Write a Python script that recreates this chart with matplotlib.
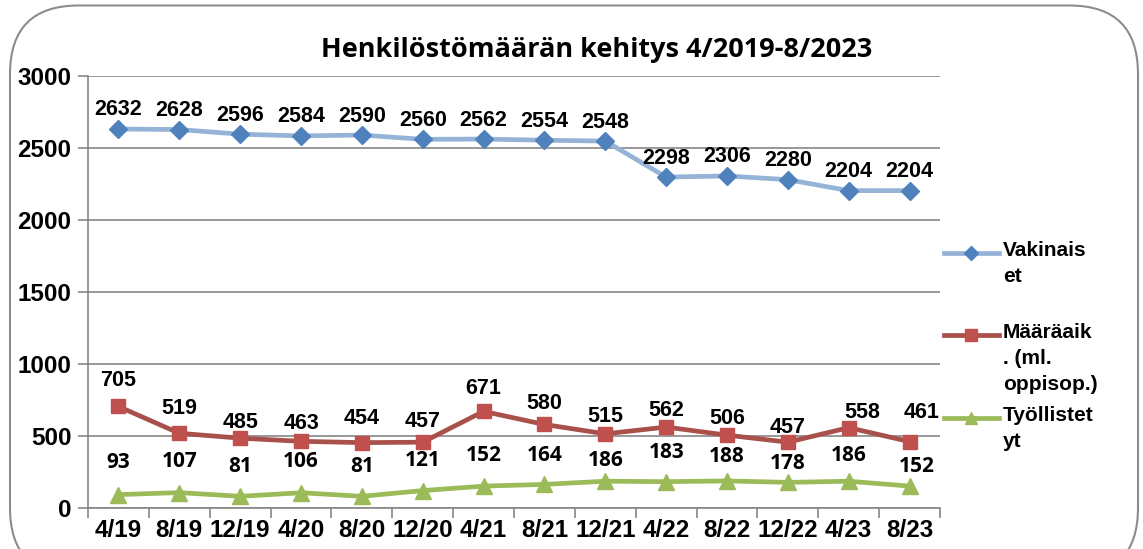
import matplotlib.pyplot as plt
from matplotlib.patches import FancyBboxPatch
from matplotlib.lines import Line2D

periods = ["4/19", "8/19", "12/19", "4/20", "8/20", "12/20", "4/21",
           "8/21", "12/21", "4/22", "8/22", "12/22", "4/23", "8/23"]
vakinaiset = [2632, 2628, 2596, 2584, 2590, 2560, 2562, 2554, 2548, 2298, 2306, 2280, 2204, 2204]
maaraaik = [705, 519, 485, 463, 454, 457, 671, 580, 515, 562, 506, 457, 558, 461]
tyollistetyt = [93, 107, 81, 106, 81, 121, 152, 164, 186, 183, 188, 178, 186, 152]
legend_labels = ["Vakinais\net", "Määräaik\n. (ml.\noppisop.)", "Työllistet\nyt"]

# data label placement (pixels above / right of each point), as hand-placed in the original
label_dy = [
    [19] * 14,
    [26, 25, 16, 18, 24, 21, 23, 21, 17, 17, 17, 15, 15, 29],
    [32, 31, 30, 31, 30, 30, 31, 29, 21, 29, 24, 19, 26, 20],
]
label_dx = [
    [0] * 14,
    [0] * 12 + [14, 12],
    [0] * 13 + [7],
]

W, H = 1143, 549
fig = plt.figure(figsize=(W / 100, H / 100), dpi=100)
ax = fig.add_axes([88 / W, 1 - 508 / H, (940 - 88) / W, (508 - 76) / H])

# rounded chart border
fig.patches.append(FancyBboxPatch((10 / W, -0.05), (1138 - 10) / W, 1.04,
                                  boxstyle="round,pad=0,rounding_size=0.06",
                                  transform=fig.transFigure, fill=False,
                                  edgecolor="#8c8c8c", linewidth=1.5,
                                  mutation_aspect=W / H))

x = list(range(len(periods)))
series = [
    (vakinaiset, "#95B3D7", "#4F81BD", "D", 9, "Liberation Sans"),
    (maaraaik, "#A9504A", "#C0504D", "s", 10, "Liberation Sans"),
    (tyollistetyt, "#9BBB59", "#9BBB59", "^", 11, "Open Sans"),
]
for (vals, lc, mc, mk, ms, fam), dys, dxs in zip(series, label_dy, label_dx):
    ax.plot(x, vals, color=lc, linewidth=3.4, marker=mk, markersize=ms,
            markerfacecolor=mc, markeredgecolor=mc, zorder=3, clip_on=False)
    for xi, v, dy, dx in zip(x, vals, dys, dxs):
        ax.annotate(str(v), (xi, v), xytext=(dx * 0.72, dy * 0.72), textcoords="offset points",
                    ha="center", va="center", fontsize=15 if fam == "Open Sans" else 15.5,
                    fontweight="bold", family=fam, zorder=4)

ax.set_xlim(-0.5, len(periods) - 0.5)
ax.set_ylim(0, 3000)
ax.set_yticks(range(0, 3001, 500))
ax.set_xticks(x)
ax.set_xticklabels(periods)
ax.set_xticks([i - 0.5 for i in range(len(periods) + 1)], minor=True)
ax.tick_params(axis="x", which="major", length=0, pad=8)
ax.tick_params(axis="x", which="minor", length=7, color="#868686", width=1.2)
ax.tick_params(axis="y", length=7, color="#868686", width=1.2, pad=5)
for lab in ax.get_xticklabels() + ax.get_yticklabels():
    lab.set_fontsize(17.5)
    lab.set_fontweight("bold")
    lab.set_family("Liberation Sans")
ax.grid(axis="y", color="#868686", linewidth=1.2)
ax.set_axisbelow(True)
for s in ["top", "right"]:
    ax.spines[s].set_visible(False)
for s in ["left", "bottom"]:
    ax.spines[s].set_color("#868686")
    ax.spines[s].set_linewidth(1.2)

fig.text(597 / W, 1 - 50 / H, "Henkilöstömäärän kehitys 4/2019-8/2023",
         ha="center", va="center", fontsize=19.5, fontweight="bold", family="Open Sans")

# legend drawn by hand so the handle sits on the first text line
leg_y = [253, 335, 418]
for (vals, lc, mc, mk, ms, fam), lab, ly in zip(series, legend_labels, leg_y):
    yy = 1 - ly / H
    fig.add_artist(Line2D([944 / W, 999 / W], [yy, yy], color=lc, linewidth=3.4,
                          transform=fig.transFigure))
    fig.add_artist(Line2D([971 / W], [yy], marker=mk, markersize=ms - 2, color=mc,
                          transform=fig.transFigure))
    fig.text(1003 / W, yy + 12 / H, lab, ha="left", va="top", fontsize=15,
             fontweight="bold", family="Liberation Sans", linespacing=1.45)

fig.savefig("out.png", dpi=100)
